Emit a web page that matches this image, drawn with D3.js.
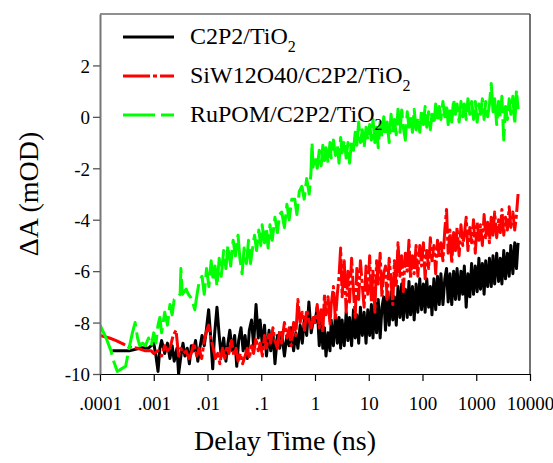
<!DOCTYPE html>
<html>
<head>
<meta charset="utf-8">
<script src="https://cdn.jsdelivr.net/npm/d3@7"></script>
<style>
	body { margin: 0; background: #fff; }
	svg text { font-family: "Liberation Serif", "Times New Roman", serif; fill: #000; }
</style>
</head>
<body>
<div id="chart"></div>
<script>
const W = 553, H = 463;
const margin = { top: 14, right: 23, bottom: 89, left: 100 };

const xTicks = [1e-4, 1e-3, 1e-2, 1e-1, 1, 10, 100, 1000, 10000];
const xTickLabels = [".0001", ".001", ".01", ".1", "1", "10", "100", "1000", "10000"];
const yTicks = [-10, -8, -6, -4, -2, 0, 2];

const seriesNames = ["C2P2/TiO", "SiW12O40/C2P2/TiO", "RuPOM/C2P2/TiO"];

// early part, [delay (ns), dA (mOD)]
const c2p2Early = [
	[0.00017,-9.1],[0.00035,-9.1],[0.0006,-8.98],[0.0008,-9.0],
	[0.0010,-8.8],[0.0011,-9.3],[0.0012,-9.9],[0.0013,-9.0],[0.0014,-8.7],[0.0016,-9.2],[0.0018,-8.8],[0.0020,-9.4],
	[0.0022,-8.9],[0.0024,-9.5],[0.0027,-9.0],[0.0029,-10.0],[0.0032,-9.3],[0.0035,-8.8],[0.0038,-9.3],[0.0042,-9.0],
	[0.0046,-9.6],[0.0050,-8.9],[0.0055,-9.1],[0.0060,-8.7],[0.0066,-9.5],[0.0072,-9.0],[0.0079,-8.5],[0.0087,-8.9],
	[0.0095,-8.3],[0.0105,-7.5],[0.0115,-8.6],[0.0125,-9.8],[0.0135,-8.5],[0.015,-7.4],[0.0165,-8.5],[0.018,-9.3],
	[0.020,-8.6],[0.022,-9.5],[0.024,-8.8],[0.026,-8.3],[0.029,-9.1],[0.032,-8.5],[0.035,-9.7],[0.038,-8.7],
	[0.042,-8.2],[0.046,-9.1],[0.050,-8.5],[0.055,-9.4],[0.060,-8.3],[0.066,-7.9],[0.072,-8.9],[0.080,-7.3],
	[0.088,-8.6],[0.095,-7.9],[0.105,-8.9],[0.115,-8.1],[0.125,-9.3],[0.14,-8.3],[0.15,-9.1],[0.165,-8.4],
	[0.18,-9.6],[0.2,-8.5],[0.22,-9.0],[0.24,-8.4],[0.27,-9.3],[0.30,-8.5],[0.33,-8.9],[0.36,-8.2],
	[0.40,-9.1],[0.44,-8.4],[0.48,-9.0],[0.53,-8.1],[0.58,-8.8],[0.64,-7.8],[0.70,-8.5],[0.77,-7.2],
	[0.85,-8.4],[0.93,-7.9]
];

const siwEarly = [
	[0.0001,-8.5],[0.00015,-8.6],[0.0002,-8.7],[0.00028,-8.85],[0.00035,-8.95],[0.0005,-9.0],[0.0007,-9.1],[0.0009,-9.1],
	[0.0010,-9.2],[0.0012,-9.1],[0.0014,-9.3],[0.0016,-8.9],[0.0018,-9.1],[0.0020,-9.0],[0.0023,-8.5],[0.0026,-8.3],
	[0.0029,-9.3],[0.0032,-9.0],[0.0036,-9.2],[0.0040,-9.1],[0.0045,-9.4],[0.0050,-9.2],[0.0056,-8.8],[0.0063,-9.3],
	[0.0070,-9.0],[0.0078,-9.4],[0.0087,-8.7],[0.0097,-8.3],[0.0105,-8.1],[0.0115,-8.6],[0.0125,-8.9],[0.014,-9.4],
	[0.0155,-9.2],[0.017,-9.6],[0.019,-9.0],[0.021,-9.4],[0.023,-8.9],[0.025,-9.2],[0.028,-8.7],[0.031,-9.3],
	[0.034,-9.0],[0.037,-9.5],[0.041,-9.2],[0.045,-9.6],[0.050,-9.3],[0.055,-9.0],[0.060,-9.4],[0.066,-8.9],
	[0.072,-9.2],[0.080,-8.6],[0.088,-9.1],[0.096,-8.8],[0.105,-9.3],[0.115,-8.5],[0.125,-9.0],[0.14,-8.4],
	[0.15,-8.8],[0.165,-8.2],[0.18,-8.7],[0.2,-9.0],[0.22,-8.3],[0.24,-8.8],[0.27,-8.0],[0.30,-8.6],
	[0.33,-8.2],[0.36,-8.9],[0.40,-8.0],[0.44,-8.5],[0.48,-7.1],[0.53,-8.0],[0.58,-7.6],[0.64,-8.3],
	[0.70,-7.5],[0.77,-7.9],[0.85,-8.2],[0.93,-7.8]
];

const rupomEarly = [
	[0.0001,-8.1],[0.00013,-8.6],[0.00016,-9.1],[0.00018,-9.5],[0.00021,-9.9],[0.00025,-9.8],[0.0003,-9.7],[0.00034,-9.1],
	[0.0004,-8.4],[0.00045,-8.0],[0.0005,-8.6],[0.00055,-8.9],[0.00062,-8.8],[0.0007,-8.9],[0.0008,-8.6],[0.0009,-8.9],
	[0.0010,-8.4],[0.0011,-8.8],[0.0012,-8.1],[0.0013,-7.8],[0.0014,-8.4],[0.0016,-7.6],[0.0018,-8.1],[0.0020,-7.3],
	[0.0022,-7.7],[0.0024,-7.1],[0.0028,-7.0],[0.0031,-6.9],[0.0032,-5.9],[0.0034,-6.9],[0.0037,-6.8],[0.0040,-6.7],
	[0.0044,-6.9],[0.0048,-7.0],[0.0053,-7.2],[0.0058,-7.5],[0.0064,-6.9],[0.0070,-6.4],[0.0079,-6.2],[0.0087,-6.9],
	[0.0096,-5.9],[0.0106,-6.6],[0.0117,-5.6],[0.0128,-6.4],[0.0138,-5.8],[0.015,-6.6],[0.0165,-5.5],[0.018,-6.2],
	[0.020,-5.2],[0.022,-5.9],[0.024,-5.0],[0.027,-5.8],[0.030,-4.8],[0.033,-5.4],[0.037,-4.6],[0.040,-5.5],
	[0.044,-6.1],[0.048,-5.1],[0.053,-5.7],[0.058,-4.8],[0.063,-5.7],[0.068,-5.2],[0.075,-4.6],[0.082,-5.2],
	[0.09,-4.4],[0.098,-5.0],[0.104,-4.2],[0.115,-4.9],[0.125,-4.3],[0.134,-5.1],[0.145,-4.2],[0.16,-4.8],
	[0.18,-3.9],[0.2,-4.5],[0.22,-3.8],[0.24,-3.7],[0.27,-4.3],[0.3,-3.4],[0.33,-4.0],[0.37,-3.2],
	[0.42,-3.2],[0.46,-3.8],[0.51,-2.9],[0.57,-2.7],[0.63,-3.2],[0.7,-2.4],[0.78,-3.0],[0.84,-2.2],
	[0.88,-1.0],[0.92,-1.95]
];

// late part, sampled at shared delay times (ns)
const lateTimes = [
	1.0,1.1,1.2,1.3,1.4,1.5,1.6,1.75,1.9,2.0,
	2.2,2.4,2.6,2.8,3.0,3.2,3.5,3.8,4.1,4.4,
	4.8,5.2,5.6,6.0,6.5,7.0,7.6,8.2,8.9,9.6,
	10.4,11.2,12,13,14,15,16.3,17.6,19,20.5,
	22,24,26,28,30,32.5,35,38,41,44,
	48,52,56,60,65,70,76,82,89,96,
	104,112,120,130,140,150,163,176,190,205,
	220,240,260,280,300,325,350,380,410,440,
	480,520,560,600,650,700,760,820,890,960,
	1040,1120,1200,1300,1400,1500,1630,1760,1900,2050,
	2200,2400,2600,2800,3000,3250,3500,3800,4100,4400,
	4800,5200,5600,6000
];

const c2p2Late = [
	-8.0,-7.4,-8.9,-7.9,-9.0,-8.2,-9.3,-8.4,-9.1,-7.9,
	-8.9,-7.7,-8.8,-7.8,-9.0,-7.9,-8.9,-7.6,-8.7,-7.8,
	-8.9,-7.5,-8.6,-7.7,-8.8,-7.4,-8.5,-7.6,-8.8,-7.5,
	-8.5,-7.3,-8.6,-7.2,-8.4,-7.1,-8.6,-7.4,-7.0,-8.3,
	-6.9,-8.1,-6.8,-7.9,-7.0,-8.1,-6.6,-7.8,-6.5,-7.9,
	-6.7,-7.8,-6.4,-7.7,-6.6,-7.9,-6.5,-7.6,-6.3,-7.5,
	-6.5,-7.6,-6.3,-7.4,-6.6,-7.7,-6.3,-7.5,-6.2,-7.3,
	-6.1,-7.3,-6.3,-5.9,-7.2,-6.1,-7.3,-6.0,-7.1,-5.9,
	-7.1,-6.0,-6.9,-5.8,-7.4,-6.1,-7.0,-5.7,-6.9,-5.8,
	-6.8,-5.5,-6.7,-5.7,-6.9,-5.6,-6.6,-5.5,-6.6,-5.4,
	-6.5,-5.3,-6.4,-5.5,-6.5,-5.2,-6.3,-5.3,-6.2,-5.0,
	-6.1,-4.9,-5.9,-4.9
];

const siwLate = [
	-8.0,-7.3,-8.2,-7.5,-8.4,-6.9,-7.7,-7.0,-8.1,-7.3,
	-6.6,-7.9,-6.9,-6.2,-5.1,-7.0,-5.6,-7.6,-6.0,-7.2,
	-5.5,-6.8,-7.8,-5.9,-7.1,-5.6,-6.6,-7.4,-5.8,-6.9,
	-5.4,-7.2,-6.0,-7.6,-5.6,-6.5,-5.3,-7.0,-6.1,-5.8,
	-7.1,-5.5,-6.4,-7.3,-5.6,-6.6,-4.9,-6.2,-5.4,-6.8,
	-5.3,-6.0,-4.8,-6.3,-5.4,-6.1,-5.0,-6.2,-5.0,-5.8,
	-4.9,-6.3,-5.2,-5.9,-4.7,-5.6,-5.0,-6.1,-4.8,-5.5,
	-4.9,-5.6,-4.4,-3.6,-5.3,-4.4,-5.7,-4.5,-5.2,-4.3,
	-5.4,-4.2,-5.0,-4.6,-3.9,-5.2,-4.3,-4.9,-4.0,-5.3,
	-4.1,-4.8,-4.2,-5.0,-3.8,-4.7,-4.1,-4.9,-3.9,-4.6,
	-3.7,-4.7,-4.0,-4.5,-3.6,-4.6,-3.9,-4.4,-3.5,-4.3,
	-3.7,-4.4,-3.8,-3.0
];

const rupomLate = [
	-1.5,-2.0,-1.3,-1.9,-1.1,-1.7,-1.2,-1.8,-1.0,-1.6,
	-0.9,-1.5,-1.1,-1.8,-0.8,-1.4,-0.9,-1.6,-1.0,-1.8,
	-0.9,-1.3,-0.6,-1.1,-0.2,-1.0,-0.5,-1.2,-0.4,-0.9,
	-0.3,-0.9,-0.1,-1.0,-0.4,-1.2,-0.2,-0.8,0.0,-0.7,
	-0.2,-1.0,0.1,-0.6,-0.1,-0.7,0.3,-0.6,0.27,-0.4,
	-0.9,0.2,-0.4,0.1,-0.6,0.3,-0.5,0.0,-0.6,0.3,
	-0.3,0.4,-0.4,0.2,-0.5,0.1,-0.3,0.5,-0.2,0.4,
	-0.1,0.6,0.0,0.5,-0.3,0.4,-0.2,0.7,0.1,0.5,
	-0.2,0.6,0.0,0.5,-0.1,0.7,0.1,0.6,-0.1,0.6,
	-0.2,0.5,0.1,0.7,-0.1,0.6,0.0,0.5,1.3,0.2,
	0.7,-0.3,0.6,0.0,0.8,-0.9,0.4,-0.1,0.7,0.1,
	0.8,-0.3,1.05,0.3
];

const seriesData = [
	c2p2Early.concat(lateTimes.map((t, i) => [t, c2p2Late[i]])),
	siwEarly.concat(lateTimes.map((t, i) => [t, siwLate[i]])),
	rupomEarly.concat(lateTimes.map((t, i) => [t, rupomLate[i]]))
];
const seriesColors = ["#000000", "#ff0000", "#00ff00"];
const seriesDash = [null, "27,3,4,3", "32,6"];

const svg = d3.select("#chart").append("svg")
	.attr("width", W)
	.attr("height", H);

const x = d3.scaleLog()
	.domain([1e-4, 1e4])
	.range([margin.left, W - margin.right]);

const y = d3.scaleLinear()
	.domain([-10, 4])
	.range([H - margin.bottom, margin.top]);

svg.append("defs").append("clipPath").attr("id", "plotClip")
	.append("rect")
	.attr("x", margin.left).attr("y", margin.top)
	.attr("width", W - margin.right - margin.left)
	.attr("height", H - margin.bottom - margin.top);

// data traces
const line = d3.line().x(d => x(d[0])).y(d => y(d[1]));

const traces = svg.append("g").attr("clip-path", "url(#plotClip)");
seriesData.forEach((s, i) => {
	traces.append("path")
		.datum(s)
		.attr("d", line)
		.attr("fill", "none")
		.attr("stroke", seriesColors[i])
		.attr("stroke-width", 3)
		.attr("stroke-linejoin", "round")
		.attr("stroke-dasharray", seriesDash[i]);
});

// frame
svg.append("line")
	.attr("x1", margin.left).attr("x2", W - margin.right)
	.attr("y1", margin.top).attr("y2", margin.top)
	.attr("stroke", "#222").attr("stroke-width", 1.2);
svg.append("line")
	.attr("x1", W - margin.right).attr("x2", W - margin.right)
	.attr("y1", margin.top).attr("y2", H - margin.bottom)
	.attr("stroke", "#444").attr("stroke-width", 1.5);

// x axis
const xAxis = svg.append("g")
	.attr("transform", `translate(0,${H - margin.bottom})`)
	.call(d3.axisBottom(x).tickValues(xTicks).tickFormat((d, i) => xTickLabels[i]).tickSize(7).tickSizeOuter(0));
xAxis.select(".domain").attr("stroke", "#000").attr("stroke-width", 1.2);
xAxis.selectAll(".tick line").attr("stroke", "#000").attr("stroke-width", 1.2);
xAxis.selectAll("text")
	.attr("font-size", "19px")
	.attr("fill", "#000")
	.attr("y", 0)
	.attr("dy", null)
	.attr("transform", "translate(0,36)");

// y axis
const yAxis = svg.append("g")
	.attr("transform", `translate(${margin.left},0)`)
	.call(d3.axisLeft(y).tickValues(yTicks).tickFormat(d3.format("d")).tickSize(7).tickSizeOuter(0));
yAxis.select(".domain").attr("stroke", "#777").attr("stroke-width", 2);
yAxis.selectAll(".tick line").attr("stroke", "#555").attr("stroke-width", 1.3);
yAxis.selectAll("text")
	.text(d => String(d))
	.attr("font-size", "19px")
	.attr("fill", "#000")
	.attr("x", -10)
	.attr("dy", "0.36em");

// axis titles
svg.append("text")
	.attr("x", 285).attr("y", 450)
	.attr("text-anchor", "middle")
	.attr("font-size", "28px")
	.text("Delay Time (ns)");

svg.append("text")
	.attr("transform", "translate(38,194) rotate(-90)")
	.attr("text-anchor", "middle")
	.attr("font-size", "28px")
	.text("\u0394A (mOD)");

// legend
const legendY = [37, 76, 115];
seriesNames.forEach((name, i) => {
	svg.append("line")
		.attr("x1", 123).attr("x2", 174)
		.attr("y1", legendY[i]).attr("y2", legendY[i])
		.attr("stroke", seriesColors[i])
		.attr("stroke-width", 3)
		.attr("stroke-dasharray", seriesDash[i]);
	const t = svg.append("text")
		.attr("x", 190).attr("y", legendY[i] + 6.5)
		.attr("font-size", "24px");
	t.append("tspan").text(name);
	t.append("tspan").attr("font-size", "16px").attr("dy", 8).text("2");
});
</script>
</body>
</html>
